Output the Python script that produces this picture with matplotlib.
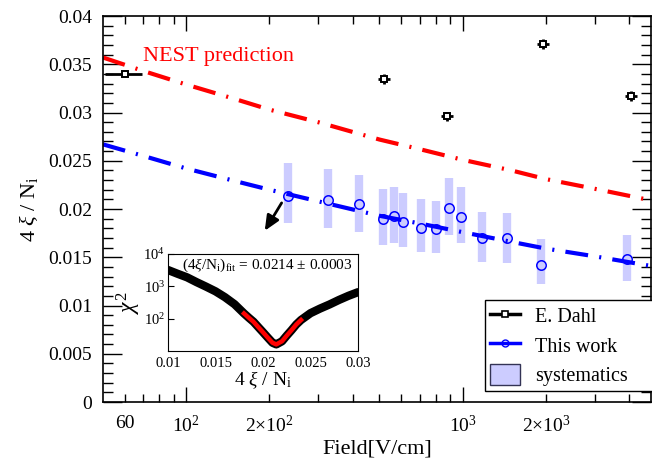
import matplotlib
matplotlib.use('Agg')
import matplotlib.pyplot as plt
from matplotlib.patches import Patch
from matplotlib.lines import Line2D
from matplotlib.ticker import FixedLocator, FixedFormatter, FuncFormatter, MultipleLocator, LogLocator, NullFormatter

plt.rcParams['font.family'] = ['Liberation Serif', 'DejaVu Serif']
plt.rcParams['mathtext.fontset'] = 'custom'
plt.rcParams['mathtext.rm'] = 'Liberation Serif'
plt.rcParams['mathtext.it'] = 'Liberation Serif:italic'
plt.rcParams['mathtext.bf'] = 'Liberation Serif:bold'

# E. Dahl data
dahl_field = [60, 520, 878, 1950, 4060]
dahl_val = [0.0340, 0.0335, 0.0296, 0.0371, 0.0317]
dahl_xerr = [9, 26, 44, 98, 200]
dahl_yerr = [0.0002, 0.0005, 0.0005, 0.0005, 0.0005]

# this work + systematics band
work_field = [234, 327, 420, 513, 562, 606, 704, 798, 889, 984, 1172, 1443, 1917, 3925]
work_val = [0.02135, 0.02093, 0.02052, 0.01896, 0.01927, 0.01868, 0.01806, 0.01793,
            0.0201, 0.01917, 0.01696, 0.01703, 0.0142, 0.01485]
sys_lo = [0.01855, 0.01806, 0.01765, 0.01627, 0.01651, 0.01609, 0.01557, 0.01547,
          0.01734, 0.01651, 0.01454, 0.01443, 0.0122, 0.01254]
sys_hi = [0.02473, 0.02415, 0.02352, 0.02207, 0.02231, 0.02169, 0.02104, 0.02083,
          0.02318, 0.02225, 0.01966, 0.01955, 0.01692, 0.01727]

# curves
curve_field = [50, 70, 100, 150, 200, 300, 500, 700, 1000, 1500, 2000, 3000, 4800]
nest_val = [0.0357, 0.0343, 0.0329, 0.0314, 0.0303, 0.0290, 0.0272, 0.0262, 0.0251,
            0.0240, 0.0231, 0.0221, 0.0209]
fit_val = [0.0267, 0.0255, 0.0242, 0.0229, 0.0220, 0.0208, 0.0193, 0.0185, 0.0176,
           0.0166, 0.0159, 0.0151, 0.0141]

# inset chi2 scan
chi_x = [0.010, 0.011, 0.012, 0.013, 0.014, 0.015, 0.016, 0.017, 0.018, 0.0185, 0.019,
         0.0195, 0.020, 0.0205, 0.021, 0.0214, 0.022, 0.0225, 0.023, 0.0235, 0.024,
         0.025, 0.026, 0.027, 0.028, 0.029, 0.030]
chi_y = [3200, 2450, 1900, 1350, 980, 700, 460, 280, 145, 107, 80, 55, 38, 26, 18, 16,
         20, 30, 44, 66, 91, 148, 205, 275, 380, 510, 660]
par_x = [0.018, 0.0185, 0.019, 0.0195, 0.020, 0.0205, 0.021, 0.0214, 0.022, 0.0225,
         0.023, 0.0235, 0.024]
par_y = [145, 107, 80, 55, 38, 26, 18, 16, 20, 30, 44, 66, 91]

xmaj = [100, 1000]
xmaj_lab = [r'$10^2$', r'$10^3$']
xmin = [60, 70, 80, 90, 200, 300, 400, 500, 600, 700, 800, 900, 2000, 3000, 4000]
xmin_lab = ['60', '', '', '', r'$2{\times}10^2$', '', '', '', '', '', '', '',
            r'$2{\times}10^3$', '', '']

DASH = (5.5, 2.7, 0.5, 2.7)

fig = plt.figure(figsize=(6.52, 4.63), dpi=100)
ax = fig.add_axes([0.158, 0.1317, 0.8405, 0.8337])

ax.vlines(work_field, sys_lo, sys_hi, colors='#ccccff', linewidth=6.0, zorder=1)
ax.plot(curve_field, nest_val, color='red', lw=3, dashes=DASH, zorder=2)
ax.plot(curve_field, fit_val, color='blue', lw=3, dashes=DASH, zorder=2)
ax.plot(work_field, work_val, 'o', ms=6.8, mfc='none', mec='blue', mew=1.1, zorder=3)
ax.errorbar(dahl_field, dahl_val, xerr=dahl_xerr, yerr=dahl_yerr, fmt='s', ms=4.5,
            mfc='white', mec='black', mew=1.4, ecolor='black', elinewidth=2, capsize=0, zorder=4)

ax.text(70, 0.0358, 'NEST prediction', color='red', fontsize=16, va='center')
ax.annotate('', xy=(190, 0.0175), xytext=(224, 0.02088),
            arrowprops=dict(arrowstyle='-|>,head_length=0.9,head_width=0.4', color='black', lw=2))

ax.set_xscale('log')
ax.set_xlim(50, 4800)
ax.set_ylim(0, 0.04)
ax.xaxis.set_major_locator(FixedLocator(xmaj))
ax.xaxis.set_major_formatter(FixedFormatter(xmaj_lab))
ax.xaxis.set_minor_locator(FixedLocator(xmin))
ax.xaxis.set_minor_formatter(FixedFormatter(xmin_lab))
ax.yaxis.set_major_locator(MultipleLocator(0.005))
ax.yaxis.set_minor_locator(MultipleLocator(0.001))
ax.yaxis.set_major_formatter(FuncFormatter(lambda v, p: '0' if abs(v) < 1e-9 else '%g' % v))
ax.tick_params(which='both', direction='in', top=True, right=True, labelsize=14, width=1)
ax.tick_params(axis='x', which='major', length=11, pad=9)
ax.tick_params(axis='x', which='minor', length=6, pad=9)
ax.tick_params(axis='y', which='major', length=14, pad=8)
ax.tick_params(axis='y', which='minor', length=7)
for s in ax.spines.values():
    s.set_linewidth(1.2)
ax.set_xlabel('Field[V/cm]', fontsize=16, labelpad=3)
ax.set_ylabel(r'4 $\xi$ / N$_\mathrm{i}$', fontsize=16, labelpad=6)

handles = [Line2D([], [], color='black', lw=2.5, marker='s', ms=4, mfc='white', mec='black', mew=1.2),
           Line2D([], [], color='blue', lw=2.5, marker='o', ms=5, mfc='none', mec='blue', mew=1),
           Patch(facecolor='#ccccff', edgecolor='#333355', lw=1)]
leg = ax.legend(handles, ['E. Dahl', 'This work', 'systematics'], loc='lower left',
                bbox_to_anchor=(0.697, 0.028, 0.33, 0.2), mode='expand', borderaxespad=0,
                fontsize=14.5, fancybox=False, edgecolor='black', framealpha=1,
                handlelength=1.5, handleheight=1.2, labelspacing=0.36, borderpad=0.25,
                handletextpad=0.75)
leg.get_frame().set_linewidth(1.0)

# inset
ins = fig.add_axes([0.2577, 0.2419, 0.2914, 0.2095])
ins.plot(chi_x, chi_y, color='black', lw=6, solid_capstyle='round')
ins.plot(par_x, par_y, color='red', lw=3.2)
ins.set_yscale('log')
ins.set_xlim(0.01, 0.03)
ins.set_ylim(10, 1e4)
ins.set_xticks([0.01, 0.015, 0.02, 0.025, 0.03])
ins.set_xticklabels(['0.01', '0.015', '0.02', '0.025', '0.03'])
ins.yaxis.set_major_locator(FixedLocator([100, 1000, 10000]))
ins.yaxis.set_major_formatter(FixedFormatter([r'$10^2$', r'$10^3$', r'$10^4$']))
ins.yaxis.set_minor_locator(LogLocator(base=10, subs=range(2, 10)))
ins.yaxis.set_minor_formatter(NullFormatter())
ins.tick_params(which='both', direction='in', labelsize=10.5, width=0.8)
ins.tick_params(which='major', length=4, pad=2)
ins.tick_params(which='minor', length=2)
ins.tick_params(axis='x', length=0, pad=4)
ins.set_xlabel(r'4 $\xi$ / N$_\mathrm{i}$', fontsize=14, labelpad=0)
ins.set_ylabel(r'$\chi^2$', fontsize=17, labelpad=0)
ins.text(0.97, 0.88, r'$(4\xi/\mathrm{N}_\mathrm{i})_\mathrm{fit}$ = 0.0214 $\pm$ 0.0003',
         transform=ins.transAxes, ha='right', va='center', fontsize=11)

fig.savefig('out.png', dpi=100)
